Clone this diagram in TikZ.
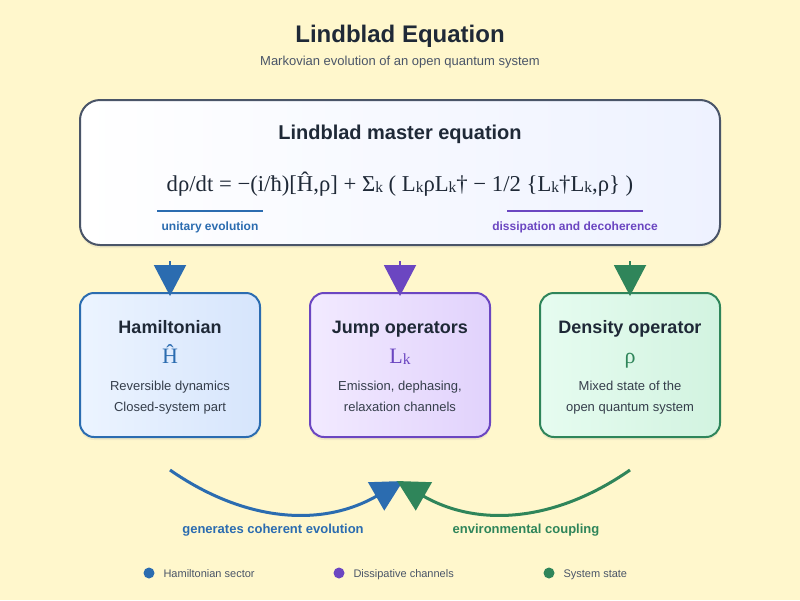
\documentclass[tikz,border=0pt]{standalone}
\usepackage{fontspec}
\setmainfont{Liberation Sans}
\newfontfamily\eqfont{Liberation Serif}
\usetikzlibrary{arrows.meta,shadows}
\definecolor{bg}{RGB}{255,247,204}
\definecolor{ink}{RGB}{31,41,55}
\definecolor{subgray}{RGB}{74,85,104}
\definecolor{hblue}{RGB}{43,108,176}
\definecolor{jpurple}{RGB}{107,70,193}
\definecolor{dgreen}{RGB}{47,133,90}
\definecolor{frame}{RGB}{74,85,104}
\definecolor{topA}{RGB}{255,255,255}
\definecolor{topB}{RGB}{238,242,255}
\definecolor{hA}{RGB}{236,244,255}
\definecolor{hB}{RGB}{214,229,252}
\definecolor{jA}{RGB}{242,234,255}
\definecolor{jB}{RGB}{225,210,252}
\definecolor{dA}{RGB}{230,252,240}
\definecolor{dB}{RGB}{210,243,224}
\newcommand\fsz[2]{\fontsize{#1}{#2}\selectfont}
\newcommand\sbk{\raisebox{-0.05em}{\fsz{15.5}{15.5}k}}
\begin{document}
\begin{tikzpicture}[x=1pt,y=-1pt,
  softshadow/.style={drop shadow={opacity=0.10,shadow xshift=0pt,shadow yshift=-3pt}},
  opbox/.style={draw, line width=2pt, rounded corners=14pt, minimum width=180pt, minimum height=144pt, inner sep=0pt, softshadow},
  boxtitle/.style={anchor=base, text=ink, font=\bfseries\fsz{18}{22}},
  boxsym/.style={anchor=base, font=\eqfont\fsz{22}{26}},
  boxdesc/.style={anchor=base, text=ink!90, font=\fsz{13}{21}, align=center},
  downarrow/.style={line width=2pt, -{Triangle[length=31pt,width=32pt]}, shorten >=-4pt},
  curvearrow/.style={line width=3pt, -{Triangle[length=31pt,width=32pt]}},
  tag/.style={anchor=base, font=\bfseries\fsz{12}{14}},
  bottomtag/.style={anchor=base, font=\bfseries\fsz{13}{15}},
  legdot/.style={circle, inner sep=0pt, minimum size=11pt},
  legtext/.style={anchor=base west, text=subgray, font=\fsz{11}{13}}]
\fill[bg] (0,0) rectangle (800,600);
\useasboundingbox (0,0) rectangle (800,600);

\node[anchor=base, text=ink, font=\bfseries\fsz{24}{28}] (title) at (400,42) {Lindblad Equation};
\node[anchor=base, text=subgray, font=\fsz{13}{15}] (subtitle) at (400,65) {Markovian evolution of an open quantum system};

\node[draw=frame, line width=2pt, rounded corners=20pt, minimum width=640pt, minimum height=145pt, inner sep=0pt, softshadow, left color=topA, right color=topB] (master) at (400,172.5) {};
\node[anchor=base, text=ink, font=\bfseries\fsz{20}{24}] (mtitle) at (400,139) {Lindblad master equation};
\node[anchor=base, text=ink, font=\eqfont\fsz{22.7}{26}] (eq) at (400,191)
  {dρ/dt = −(i/ħ)[Ĥ,ρ] + Σ\sbk{} ( L\sbk ρL\sbk† − 1/2 \{L\sbk†L\sbk,ρ\} )};
\draw[hblue, line width=2pt] (157,211) -- (263,211);
\draw[jpurple, line width=2pt] (507,211) -- (643,211);
\node[tag, text=hblue] (unit) at (210,230) {unitary evolution};
\node[tag, text=jpurple] (diss) at (575,230) {dissipation and decoherence};

\node[opbox, draw=hblue, left color=hA, right color=hB] (ham) at (170,365) {};
\node[opbox, draw=jpurple, left color=jA, right color=jB] (jump) at (400,365) {};
\node[opbox, draw=dgreen, left color=dA, right color=dB] (dens) at (630,365) {};

\node[boxtitle] (hamt) at (170,333) {Hamiltonian};
\node[boxsym, text=hblue] (hams) at (170,363) {Ĥ};
\node[boxdesc] (hamd) at (170,411) {Reversible dynamics\\Closed-system part};

\node[boxtitle] (jumpt) at (400,333) {Jump operators};
\node[boxsym, text=jpurple] (jumps) at (400,363) {L\sbk};
\node[boxdesc] (jumpd) at (400,411) {Emission, dephasing,\\relaxation channels};

\node[boxtitle] (denst) at (630,333) {Density operator};
\node[boxsym, text=dgreen] (denss) at (630,363) {ρ};
\node[boxdesc] (densd) at (630,411) {Mixed state of the\\open quantum system};

\coordinate (a1) at (170,261);
\coordinate (a2) at (400,261);
\coordinate (a3) at (630,261);
\draw[downarrow, hblue] (a1) -- (ham.north);
\draw[downarrow, jpurple] (a2) -- (jump.north);
\draw[downarrow, dgreen] (a3) -- (dens.north);

\coordinate (hs) at (170,470);
\coordinate (ds) at (630,470);
\coordinate (ht) at (403,481);
\coordinate (dt) at (397,481);
\draw[curvearrow, hblue] (hs) .. controls (246.7,523.3) and (323.3,526.7) .. (ht);
\draw[curvearrow, dgreen] (ds) .. controls (553.3,523.3) and (476.7,526.7) .. (dt);
\node[bottomtag, text=hblue] (gen) at (273,533) {generates coherent evolution};
\node[bottomtag, text=dgreen] (env) at (526,533) {environmental coupling};

\node[legdot, fill=hblue] (l1) at (149,573) {};
\node[legtext] (l1t) at (160,577) {Hamiltonian sector};
\node[legdot, fill=jpurple] (l2) at (339,573) {};
\node[legtext] (l2t) at (350,577) {Dissipative channels};
\node[legdot, fill=dgreen] (l3) at (549,573) {};
\node[legtext] (l3t) at (560,577) {System state};
\end{tikzpicture}
\end{document}
